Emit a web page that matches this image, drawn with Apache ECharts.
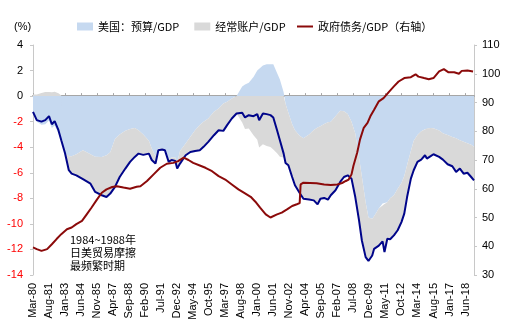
<!DOCTYPE html>
<html><head><meta charset="utf-8">
<script src="https://cdn.jsdelivr.net/npm/echarts@6/dist/echarts.min.js"></script>
<style>html,body{margin:0;padding:0;background:#fff}#c{width:509px;height:326px}</style>
</head><body><div id="c"></div>
<script>
// ---- categories: monthly, Mar-80 .. Mar-19 ----
const monthNames = ['Jan','Feb','Mar','Apr','May','Jun','Jul','Aug','Sep','Oct','Nov','Dec'];
const startYear = 1980, startMonth = 2, monthCount = 469;
const categories = [];
for (let i = 0; i < monthCount; i++) {
  const t = startMonth + i;
  categories.push(monthNames[t % 12] + '-' + String((startYear + Math.floor(t / 12)) % 100).padStart(2, '0'));
}

// ---- budget balance / GDP and twin total (navy line), % ----
const balanceMonths = ['Mar-80','Jul-80','Dec-80','Apr-81','Aug-81','Nov-81','Feb-82','Jun-82','Sep-82','Jan-83','May-83','Aug-83','Jan-84','Aug-84','Apr-85','Sep-85','Apr-86','Sep-86','Jan-87','Jun-87','Nov-87','May-88','Oct-88','Mar-89','Jul-89','Dec-89','Jun-90','Sep-90','Jan-91','Apr-91','Aug-91','Nov-91','Mar-92','Jun-92','Oct-92','Dec-92','Mar-93','Sep-93','Feb-94','Jul-94','Dec-94','Apr-95','Sep-95','Mar-96','Aug-96','Jan-97','May-97','Oct-97','Mar-98','Sep-98','Dec-98','Apr-99','Sep-99','Jan-00','Mar-00','Jul-00','Nov-00','Mar-01','Jun-01','Oct-01','Jan-02','May-02','Jul-02','Oct-02','Feb-03','May-03','Oct-03','Feb-04','Aug-04','Jan-05','May-05','Aug-05','Dec-05','Apr-06','Jul-06','Dec-06','May-07','Sep-07','Jan-08','May-08','Sep-08','Jan-09','Apr-09','Aug-09','Nov-09','Mar-10','May-10','Oct-10','Feb-11','Apr-11','Jul-11','Oct-11','Feb-12','Jun-12','Oct-12','Jan-13','Apr-13','Aug-13','Nov-13','Mar-14','Jul-14','Nov-14','Jan-15','May-15','Aug-15','Feb-16','Jun-16','Nov-16','Apr-17','Aug-17','Dec-17','Apr-18','Aug-18','Dec-18','Mar-19'];
const budgetValues = [-1.35,-2.0,-2.25,-2.2,-1.9,-2.5,-2.3,-2.9,-3.5,-4.45,-4.7,-4.7,-4.55,-4.24,-4.55,-4.75,-4.76,-4.63,-4.4,-3.35,-3.0,-2.72,-2.57,-2.5,-2.67,-3.0,-3.5,-4.1,-4.7,-4.1,-4.1,-4.2,-4.9,-4.8,-4.8,-5.2,-4.3,-3.7,-3.19,-2.67,-2.27,-2.0,-1.75,-1.23,-0.97,-0.57,-0.44,-0.18,0.0,0.75,0.9,1.05,1.5,2.0,2.15,2.4,2.5,2.5,2.5,1.8,1.3,0.3,-0.6,-1.3,-2.2,-2.67,-3.1,-3.3,-3.0,-2.65,-2.45,-2.35,-2.18,-2.05,-2.0,-1.57,-1.15,-1.18,-1.4,-2.0,-2.93,-4.8,-6.3,-8.3,-9.5,-9.6,-9.4,-8.8,-8.4,-8.45,-8.3,-8.0,-7.75,-7.25,-6.8,-6.25,-5.4,-4.3,-3.5,-3.05,-2.75,-2.6,-2.54,-2.5,-2.52,-2.7,-2.9,-3.05,-3.2,-3.3,-3.45,-3.58,-3.68,-3.8,-3.97];
const totalValues = [-1.23,-1.88,-2.0,-1.88,-1.57,-2.2,-1.96,-2.67,-3.45,-4.47,-5.8,-6.07,-6.2,-6.5,-6.85,-7.5,-7.76,-7.9,-7.63,-7.1,-6.33,-5.67,-5.15,-4.76,-4.5,-4.6,-4.5,-5.0,-5.28,-4.24,-4.18,-4.24,-5.15,-5.0,-5.07,-5.67,-5.28,-4.63,-4.37,-4.29,-4.24,-3.97,-3.58,-3.06,-2.67,-2.72,-2.27,-1.75,-1.36,-1.31,-1.67,-1.49,-1.57,-1.41,-1.88,-1.36,-1.41,-1.49,-1.67,-2.67,-3.45,-4.5,-5.23,-5.41,-6.33,-6.98,-7.58,-8.03,-8.1,-8.16,-8.47,-8.03,-7.97,-8.1,-7.76,-7.37,-6.72,-6.33,-6.2,-6.46,-7.9,-9.73,-11.3,-12.6,-12.9,-12.47,-11.95,-11.7,-11.37,-12.2,-11.16,-11.2,-10.9,-10.5,-9.86,-9.2,-7.9,-6.46,-5.8,-5.15,-4.97,-4.63,-4.89,-4.7,-4.55,-4.76,-4.97,-5.33,-5.49,-5.93,-5.67,-6.07,-6.0,-6.33,-6.59];

// ---- government debt / GDP (right axis), % ----
const debtMonths = ['Mar-80','Jul-80','Dec-80','Jun-81','Nov-81','Apr-82','Sep-82','Mar-83','Aug-83','Jan-84','Jul-84','Dec-84','May-85','Nov-85','Apr-86','Sep-86','Mar-87','Aug-87','Mar-88','Oct-88','May-89','Sep-89','Apr-90','Nov-90','Jun-91','Jan-92','Aug-92','Jan-93','Jul-93','Dec-93','May-94','Dec-94','Jun-95','Jan-96','Aug-96','Mar-97','Oct-97','May-98','Dec-98','Jun-99','Nov-99','Apr-00','Oct-00','Mar-01','May-01','Oct-01','Mar-02','Sep-02','Feb-03','Jul-03','Oct-03','Nov-03','Feb-04','Sep-04','Apr-05','Dec-05','Jul-06','Feb-07','Jul-07','Nov-07','Feb-08','May-08','Jul-08','Nov-08','Feb-09','Jun-09','Oct-09','Jan-10','May-10','Oct-10','Mar-11','Sep-11','Feb-12','Jul-12','Jan-13','Aug-13','Jan-14','Apr-14','Oct-14','Mar-15','Aug-15','Feb-16','Jul-16','Dec-16','Jun-17','Nov-17','Feb-18','Aug-18','Feb-19'];
const debtValues = [39.6,39.0,38.4,39.0,40.7,42.5,44.2,45.9,46.5,47.7,48.8,51.1,53.4,56.3,58.6,59.8,60.6,60.9,60.4,60.0,60.7,60.9,62.7,65.0,67.3,68.7,69.0,69.6,70.8,70.0,69.0,68.1,67.3,66.1,64.4,63.2,61.5,59.8,58.4,57.2,55.5,53.4,51.1,50.0,49.8,51.1,51.7,52.9,54.0,54.6,55.0,61.5,62.1,62.0,61.9,61.5,61.3,61.5,62.0,62.7,63.2,65.0,67.9,72.5,77.1,81.2,82.9,85.2,87.5,90.4,91.5,93.8,95.6,97.3,98.5,98.8,99.8,99.0,98.5,98.1,98.5,100.8,101.6,100.5,100.5,100.0,101.0,101.1,100.8];

const leftTicks = {min: -14, max: 4, interval: 2};
const rightTicks = {min: 30, max: 110, interval: 10};
const legendNames = ['美国：预算/GDP', '经常账户/GDP', '政府债务/GDP（右轴）'];
const noteLines = ['1984~1988年', '日美贸易摩擦', '最频繁时期'];

// ---- build ----
const idx = m => categories.indexOf(m);
const budgetData = balanceMonths.map((m, i) => [idx(m), budgetValues[i]]);
const currentData = balanceMonths.map((m, i) => [idx(m), +(totalValues[i] - budgetValues[i]).toFixed(3)]);
const totalData = balanceMonths.map((m, i) => [idx(m), totalValues[i]]);
const debtData = debtMonths.map((m, i) => [idx(m), debtValues[i]]);

const FONT = '"Liberation Sans", Arial, sans-serif';
const CJK = '"Noto Sans CJK SC", "Liberation Sans", sans-serif';
const BLUE = '#c6d9f0', GRAY = '#d9d9d9', NAVY = '#00058a', RED = '#8b0a0a';

const chart = echarts.init(document.getElementById('c'), null, {renderer: 'canvas'});
chart.setOption({
  animation: false,
  backgroundColor: '#fff',
  grid: {left: 33, right: 35, top: 45, bottom: 51, containLabel: false},
  title: {text: '(%)', left: 9, top: 16, textStyle: {fontSize: 11, fontWeight: 'normal', color: '#000', fontFamily: FONT}},
  legend: [{
    left: 77, top: 21, padding: 0, itemGap: 15, itemWidth: 16, itemHeight: 8,
    textStyle: {fontSize: 11, color: '#000', fontFamily: CJK},
    data: [{name: legendNames[0], icon: 'rect'}, {name: legendNames[1], icon: 'rect'}]
  }, {
    left: 297, top: 21, padding: 0, itemWidth: 16, itemHeight: 2,
    textStyle: {fontSize: 11, color: '#000', fontFamily: CJK},
    data: [{name: legendNames[2], icon: 'rect'}]
  }],
  xAxis: [{
    type: 'category', data: categories, boundaryGap: false, position: 'bottom',
    axisLine: {show: false, onZero: false},
    axisTick: {show: false},
    axisLabel: {interval: 16, rotate: 90, margin: 8, fontSize: 11, color: '#000', fontFamily: FONT}
  }, {
    type: 'category', data: categories, boundaryGap: false, position: 'bottom',
    axisLine: {show: true, onZero: true, lineStyle: {color: '#a6a6a6', width: 2}},
    axisTick: {show: true, inside: true, length: 3, interval: 16, lineStyle: {color: '#a6a6a6'}},
    axisLabel: {show: false}
  }],
  yAxis: [{
    type: 'value', min: leftTicks.min, max: leftTicks.max, interval: leftTicks.interval,
    splitLine: {show: false},
    axisLine: {show: true, lineStyle: {color: '#c8c8c8'}},
    axisTick: {show: true, length: 3, lineStyle: {color: '#c8c8c8'}},
    axisLabel: {margin: 10, fontSize: 11, fontFamily: FONT, color: v => (Number(v) < 0 ? '#ff0000' : '#000')}
  }, {
    type: 'value', min: rightTicks.min, max: rightTicks.max, interval: rightTicks.interval, position: 'right',
    splitLine: {show: false},
    axisLine: {show: true, lineStyle: {color: '#c8c8c8'}},
    axisTick: {show: true, length: 3, lineStyle: {color: '#c8c8c8'}},
    axisLabel: {margin: 8, fontSize: 11, color: '#000', fontFamily: FONT}
  }],
  series: [{
    name: legendNames[0], type: 'line', stack: 'bal', stackStrategy: 'samesign',
    data: budgetData, symbol: 'none', lineStyle: {width: 0},
    itemStyle: {color: BLUE}, areaStyle: {color: BLUE, opacity: 1}, z: 1
  }, {
    name: legendNames[1], type: 'line', stack: 'bal', stackStrategy: 'samesign',
    data: currentData, symbol: 'none', lineStyle: {width: 0},
    itemStyle: {color: GRAY}, areaStyle: {color: GRAY, opacity: 1}, z: 1
  }, {
    name: 'total', type: 'line', data: totalData, symbol: 'none',
    lineStyle: {color: NAVY, width: 2}, itemStyle: {color: NAVY}, z: 3
  }, {
    name: legendNames[2], type: 'line', yAxisIndex: 1, data: debtData, symbol: 'none',
    lineStyle: {color: RED, width: 2}, itemStyle: {color: RED}, z: 4
  }],
  graphic: noteLines.map((t, i) => ({
    type: 'text', left: 70, top: 234 + i * 13,
    style: {text: t, fontSize: 11, fill: '#000', fontFamily: CJK}
  }))
});
</script></body></html>
